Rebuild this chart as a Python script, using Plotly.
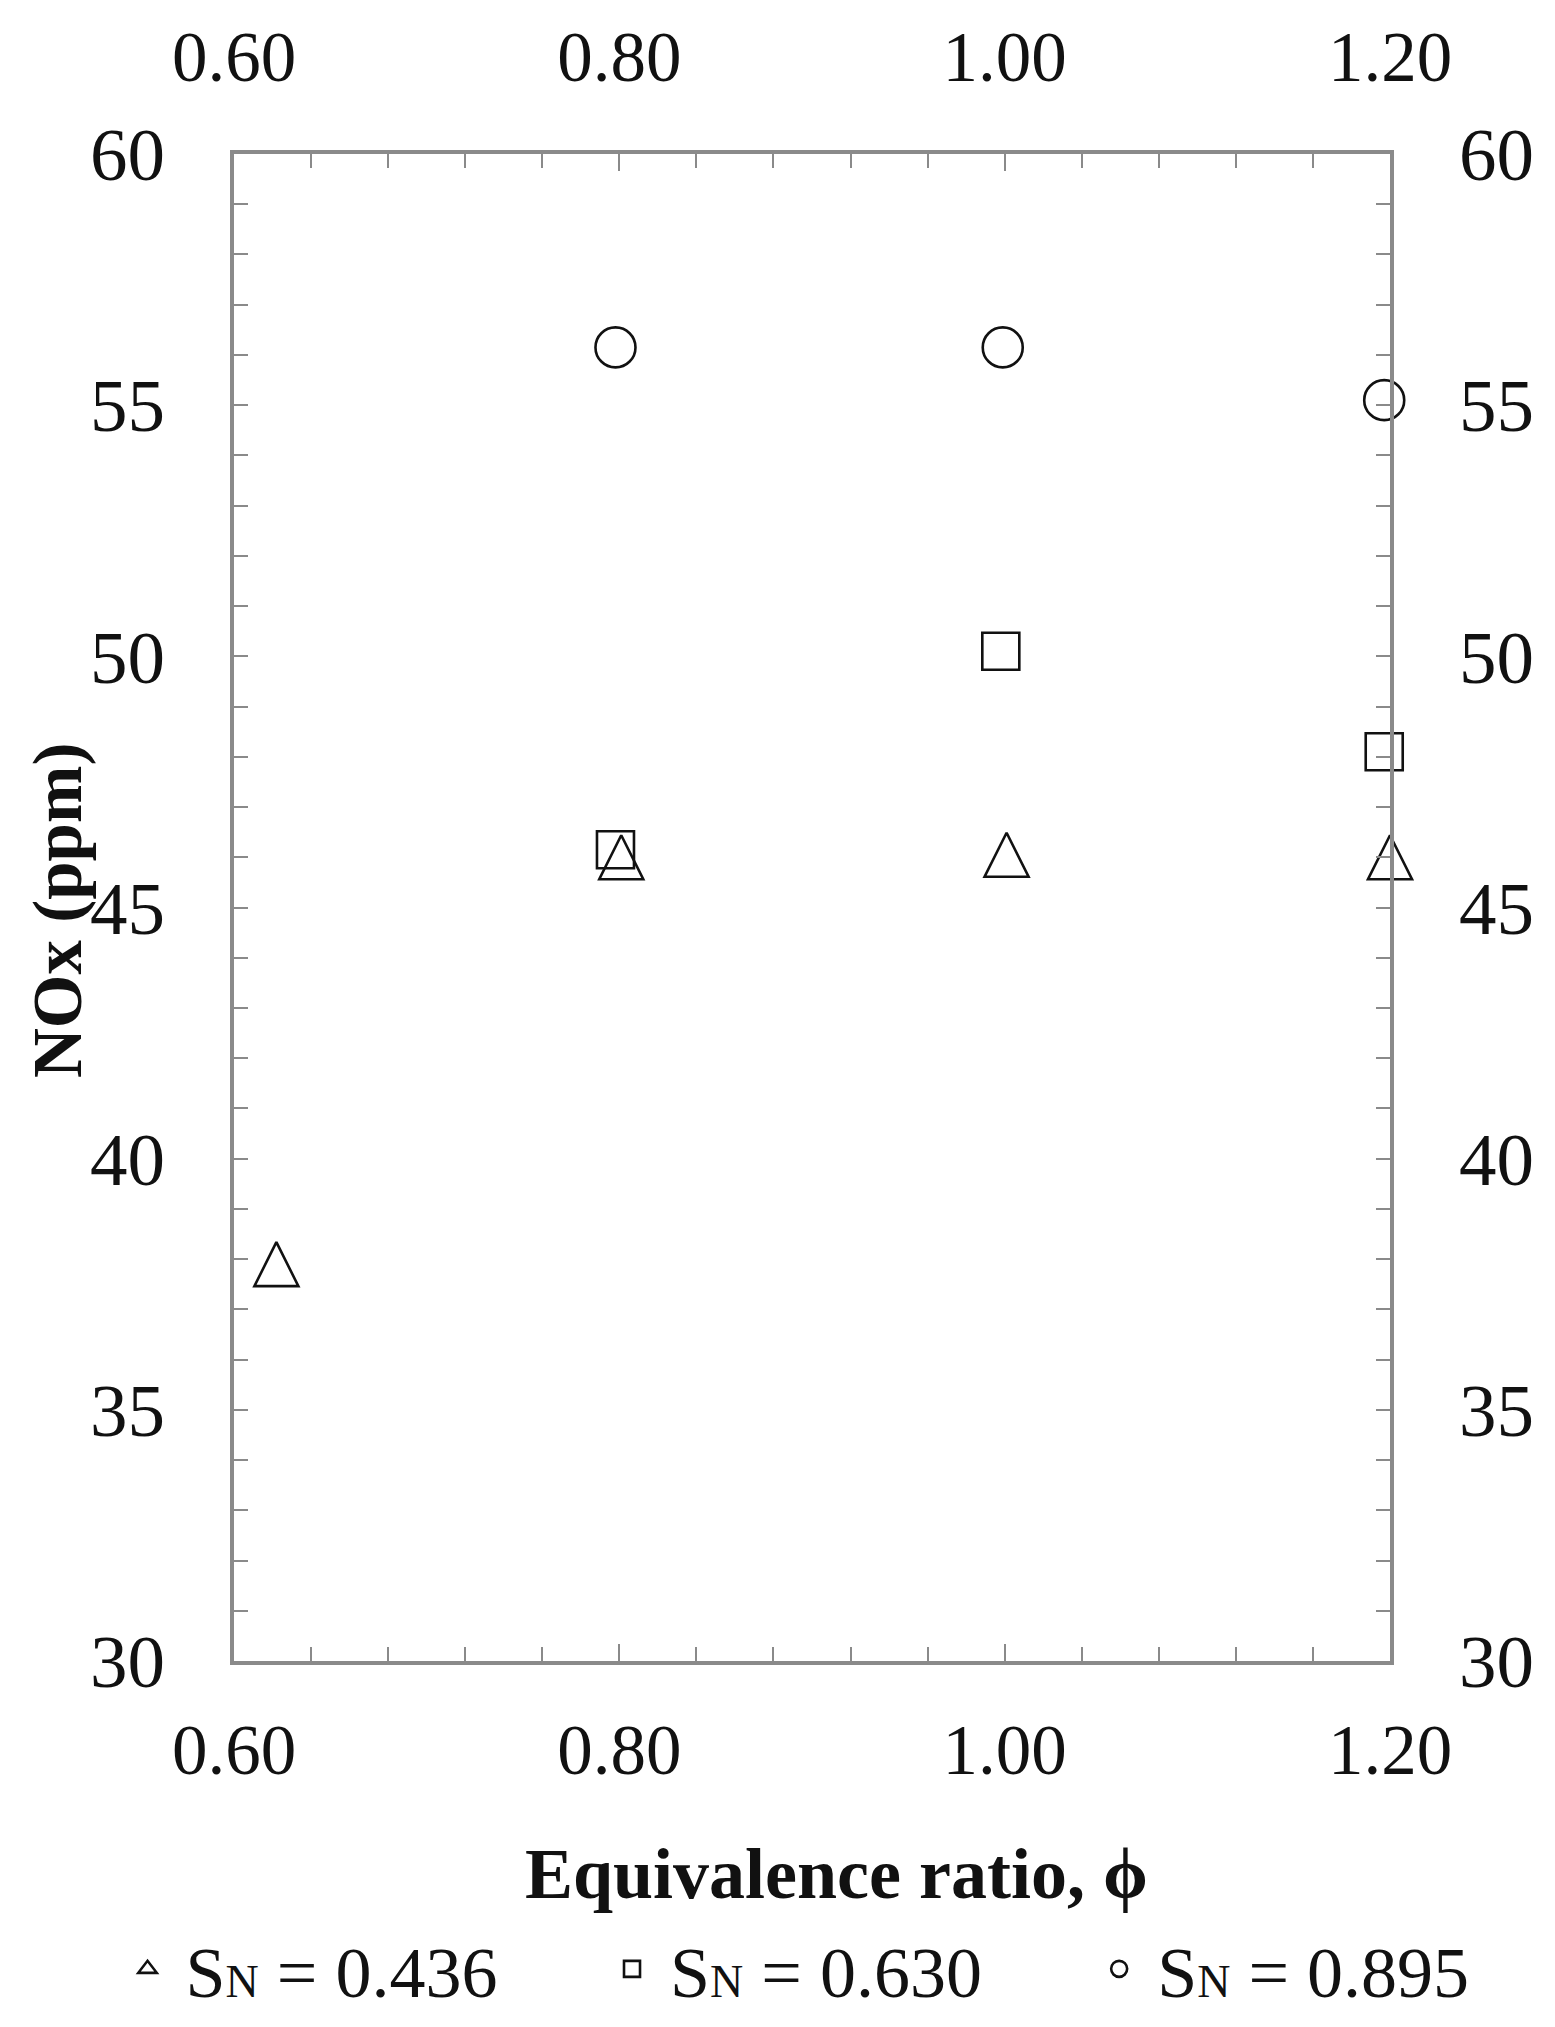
import plotly.graph_objects as go

# Data
phi_tri = [0.622, 0.801, 1.001, 1.2]
nox_tri = [37.9, 46.0, 46.05, 46.0]
phi_sq = [0.599, 0.798, 0.998, 1.197]
nox_sq = [39.1, 46.15, 50.1, 48.1]
phi_circ = [0.599, 0.798, 0.999, 1.197]
nox_circ = [49.1, 56.15, 56.15, 55.1]

x_ticks = [0.6, 0.8, 1.0, 1.2]
x_ticklabels = ["0.60", "0.80", "1.00", "1.20"]
y_ticks = [30, 35, 40, 45, 50, 55, 60]

series_names = [
    "\u00a0S<span style='font-size:46px'>N</span> = 0.436",
    "\u00a0S<span style='font-size:46px'>N</span> = 0.630",
    "\u00a0S<span style='font-size:46px'>N</span> = 0.895",
]
legend_x = [-0.0921, 0.3270, 0.7484]

AX = "#8a8a8a"
INK = "#111"

fig = go.Figure()
TRI = 44
# triangles drawn as centred, equal-aspect triangles (arrow flipped + standoff)
fig.add_trace(go.Scatter(
    x=phi_tri, y=nox_tri, mode="markers", name=series_names[0],
    legendgroup="g1", showlegend=False,
    marker=dict(symbol="arrow-down-open", angle=180, standoff=TRI / 2, size=TRI,
                color=INK, line=dict(width=2.6, color=INK)),
    cliponaxis=False))
# legend entry for the triangle series
fig.add_trace(go.Scatter(
    x=[None], y=[None], mode="markers", name=series_names[0],
    legendgroup="g1", legend="legend",
    marker=dict(symbol="triangle-up-open", size=16, color=INK,
                line=dict(width=2.6, color=INK))))
fig.add_trace(go.Scatter(
    x=phi_sq, y=nox_sq, mode="markers", name=series_names[1], legend="legend2",
    marker=dict(symbol="square-open", size=37, color=INK,
                line=dict(width=2.6, color=INK)),
    cliponaxis=False))
fig.add_trace(go.Scatter(
    x=phi_circ, y=nox_circ, mode="markers", name=series_names[2], legend="legend3",
    marker=dict(symbol="circle-open", size=40, color=INK,
                line=dict(width=2.6, color=INK)),
    cliponaxis=False))

# invisible trace on secondary axes so they are drawn
fig.add_trace(go.Scatter(x=[0.6], y=[30], xaxis="x2", yaxis="y2",
                         mode="markers", marker=dict(opacity=0),
                         showlegend=False, hoverinfo="skip"))

XFONT = dict(family="Liberation Serif", size=71, color=INK)
YFONT = dict(family="Liberation Serif", size=75, color=INK)

def xax(side, standoff):
    return dict(side=side, range=[0.6, 1.2], tickvals=x_ticks, ticktext=x_ticklabels,
                ticks="inside", ticklen=17, tickwidth=2, tickcolor=AX,
                minor=dict(dtick=0.04, tick0=0.6, ticks="inside", ticklen=14,
                           tickwidth=2, tickcolor=AX),
                showline=True, linecolor=AX, linewidth=4, showgrid=False,
                zeroline=False, tickfont=XFONT, ticklabelstandoff=standoff,
                automargin=False)

def yax(side):
    return dict(side=side, range=[30, 60], tickvals=y_ticks,
                ticks="inside", ticklen=14, tickwidth=2, tickcolor=AX,
                minor=dict(dtick=1, tick0=30, ticks="inside", ticklen=14,
                           tickwidth=2, tickcolor=AX),
                showline=True, linecolor=AX, linewidth=4, showgrid=False,
                zeroline=False, tickfont=YFONT, ticklabelstandoff=50,
                automargin=False)

LEGFONT = dict(family="Liberation Serif", size=72, color=INK)

def leg(x):
    return dict(x=x, xanchor="left", y=-0.2044, yanchor="middle",
                orientation="h", font=LEGFONT, itemsizing="trace",
                bgcolor="rgba(0,0,0,0)", borderwidth=0)

# page body has an 8px margin: figure is offset so that the page matches
fig.update_layout(
    width=1539, height=2027,
    margin=dict(l=226, r=157, t=146, b=374),
    paper_bgcolor="white", plot_bgcolor="white",
    xaxis=xax("bottom", 24),
    xaxis2=dict(overlaying="x", anchor="y", matches="x", **xax("top", 41)),
    yaxis=yax("left"),
    yaxis2=dict(overlaying="y", anchor="x", matches="y", **yax("right")),
    showlegend=True,
    legend=leg(legend_x[0]),
    legend2=leg(legend_x[1]),
    legend3=leg(legend_x[2]),
    annotations=[
        dict(text="<b>Equivalence ratio, ϕ</b>", xref="paper", yref="paper",
             x=0.521, y=-0.1413, xanchor="center", yanchor="middle", showarrow=False,
             font=dict(family="Liberation Serif", size=72, color=INK)),
        dict(text="<b>NOx (ppm)</b>", xref="paper", yref="paper",
             x=-0.1522, y=0.4977, xanchor="center", yanchor="middle", showarrow=False,
             textangle=-90,
             font=dict(family="Liberation Serif", size=69, color=INK)),
    ],
)

fig.write_html("out.html")
